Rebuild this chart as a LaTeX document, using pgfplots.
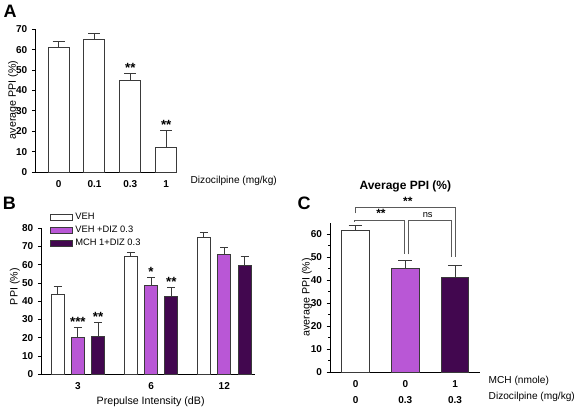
\documentclass[border=0pt]{standalone}
\usepackage{pgfplots}
\pgfplotsset{compat=1.18}
\usepackage{fontspec}
\setmainfont{Liberation Sans}
\definecolor{barline}{HTML}{3A3A3A}
\definecolor{purp}{HTML}{B957D6}
\definecolor{dpurp}{HTML}{42074F}
\definecolor{brk}{HTML}{5A5A5A}

\pgfplotsset{
  panel/.style={
    scale only axis,
    anchor=south west,
    axis lines*=left,
    axis line style={black, line width=0.75pt},
    tick align=outside,
    major tick length=3pt,
    minor tick length=1.8pt,
    ytick style={black, line width=0.75pt},
    xtick style={draw=none},
    /pgf/number format/assume math mode=true,
    tick label style={font=\fontsize{7.5}{9}\selectfont\bfseries},
    label style={font=\fontsize{8}{9.6}\selectfont},
    ybar, bar shift=0pt,
    clip=false,
    ymin=0,
    every axis plot/.append style={draw=barline, line width=0.75pt},
    error bars/y dir=plus,
    error bars/y explicit,
    error bars/error bar style={barline, line width=0.75pt},
  },
}
\tikzset{stars/.style={font=\fontsize{10}{10}\selectfont\bfseries, anchor=south, inner sep=0.5pt}}

\begin{document}
\begin{tikzpicture}
\useasboundingbox (0,0) rectangle (434.25pt,-308.25pt);

% Panel letters
\node[font=\fontsize{13.5}{13.5}\selectfont\bfseries] at (7.5pt,-8.3pt) {A};
\node[font=\fontsize{13.5}{13.5}\selectfont\bfseries] at (7pt,-152.6pt) {B};
\node[font=\fontsize{13.5}{13.5}\selectfont\bfseries] at (228pt,-152.3pt) {C};

% ---------------- Panel A
\begin{axis}[panel,
  at={(27pt,-129pt)},
  width=105.75pt, height=107pt,
  xmin=-0.63, xmax=3.3, ymax=70,
  ytick={0,10,...,70},
  xtick={0,1,2,3}, xticklabels={0,0.1,0.3,1},
  bar width=15.75pt,
  ylabel={average PPI (\%)},
  ylabel style={at={(axis description cs:-0.163,0.505)}, anchor=center},
  error bars/error mark options={rotate=90, mark size=4.5pt, barline, line width=0.75pt},
]
\addplot[fill=white] coordinates {(0,61.2) +- (0,2.7) (1,64.9) +- (0,3.0) (2,44.9) +- (0,3.5) (3,12.1) +- (0,8.1)};
\node[stars] at (axis cs:2,48.4) {**};
\node[stars] at (axis cs:3,20.2) {**};
\node[anchor=west, font=\fontsize{7.6}{9}\selectfont] at (axis cs:3.55,0) [yshift=-6.75pt] {Dizocilpine (mg/kg)};
\end{axis}

% ---------------- Panel B
\begin{axis}[panel,
  at={(31.5pt,-280.7pt)},
  width=159.75pt, height=109.5pt,
  xmin=-0.49, xmax=2.42, ymax=80,
  ytick={0,10,...,80},
  xtick={0,1,2}, xticklabels={3,6,12},
  bar width=9.75pt,
  xlabel={Prepulse Intensity (dB)},
  xlabel style={at={(axis description cs:0.51,-0.19)}, anchor=center},
  ylabel={PPI (\%)},
  ylabel style={at={(axis description cs:-0.127,0.6)}, anchor=center},
  error bars/error mark options={rotate=90, mark size=3pt, barline, line width=0.75pt},
  legend style={at={(axis description cs:0.035,1.125)}, anchor=north west, draw=none, fill=none,
    font=\fontsize{7}{8}\selectfont, inner sep=0pt, row sep=-0.6pt,
    /tikz/every even column/.append style={column sep=2pt}},
  legend image code/.code={\draw[#1, line width=0.75pt] (0pt,-2.2pt) rectangle (16.5pt,2.2pt);},
  legend cell align=left,
]
\addplot[fill=white] coordinates {(-0.277,43.7) +- (0,4.5) (0.723,64.6) +- (0,2.4) (1.723,75.2) +- (0,2.4)};
\addplot[fill=purp] coordinates {(0,20.2) +- (0,5.5) (1,48.6) +- (0,4.4) (2,65.6) +- (0,3.6)};
\addplot[fill=dpurp] coordinates {(0.277,20.8) +- (0,7.4) (1.277,42.4) +- (0,5.1) (2.277,59.7) +- (0,4.6)};
\legend{VEH, VEH +DIZ 0.3, MCH 1+DIZ 0.3}
\node[stars] at (axis cs:0,25.7) {***};
\node[stars] at (axis cs:0.277,28.2) {**};
\node[stars] at (axis cs:1,53.0) {*};
\node[stars] at (axis cs:1.277,47.5) {**};
\end{axis}

% ---------------- Panel C
\begin{axis}[panel,
  at={(248pt,-279pt)},
  width=112pt, height=112.1pt,
  xmin=-0.5, xmax=2.5, ymax=65,
  ytick={0,10,...,60},
  minor ytick={5,15,...,55},
  minor tick style={black, line width=0.75pt},
  xtick={0,1,2},
  xticklabels={{0\\0},{0\\0.3},{1\\0.3}},
  x tick label style={align=center, font=\fontsize{7.5}{12}\selectfont\bfseries},
  bar width=20.7pt,
  ylabel={average PPI (\%)},
  ylabel style={at={(axis description cs:-0.159,0.5)}, anchor=center},
  error bars/error mark options={rotate=90, mark size=5.2pt, barline, line width=0.75pt},
]
\addplot[fill=white] coordinates {(0,61.4) +- (0,2.4)};
\addplot[fill=purp] coordinates {(1,44.8) +- (0,3.6)};
\addplot[fill=dpurp] coordinates {(2,41.2) +- (0,5.3)};
\draw[brk, line width=0.75pt] (axis cs:0,69.0) -- (axis cs:0,71.7) -- (axis cs:2,71.7) -- (axis cs:2,50.1);
\draw[brk, line width=0.75pt] (axis cs:-0.02,65.3) -- (axis cs:-0.02,66.1) -- (axis cs:0.99,66.1) -- (axis cs:0.99,51.2);
\draw[brk, line width=0.75pt] (axis cs:1.07,51.2) -- (axis cs:1.07,66.1) -- (axis cs:1.93,66.1) -- (axis cs:1.93,50.1);
\node[font=\fontsize{9}{9}\selectfont\bfseries] at (axis cs:1.05,74.3) {**};
\node[font=\fontsize{9}{9}\selectfont\bfseries] at (axis cs:0.51,69.1) {**};
\node[font=\fontsize{7}{7}\selectfont] at (axis cs:1.45,68.3) {ns};
\node[font=\fontsize{9}{9}\selectfont\bfseries] at (axis cs:1,80.9) {Average PPI (\%)};
\node[anchor=west, font=\fontsize{7.6}{9}\selectfont] at (axis cs:2.58,0) [yshift=-6.75pt] {MCH (nmole)};
\node[anchor=west, font=\fontsize{7.6}{9}\selectfont] at (axis cs:2.58,0) [yshift=-18.75pt] {Dizocilpine (mg/kg)};
\end{axis}
\end{tikzpicture}
\end{document}
